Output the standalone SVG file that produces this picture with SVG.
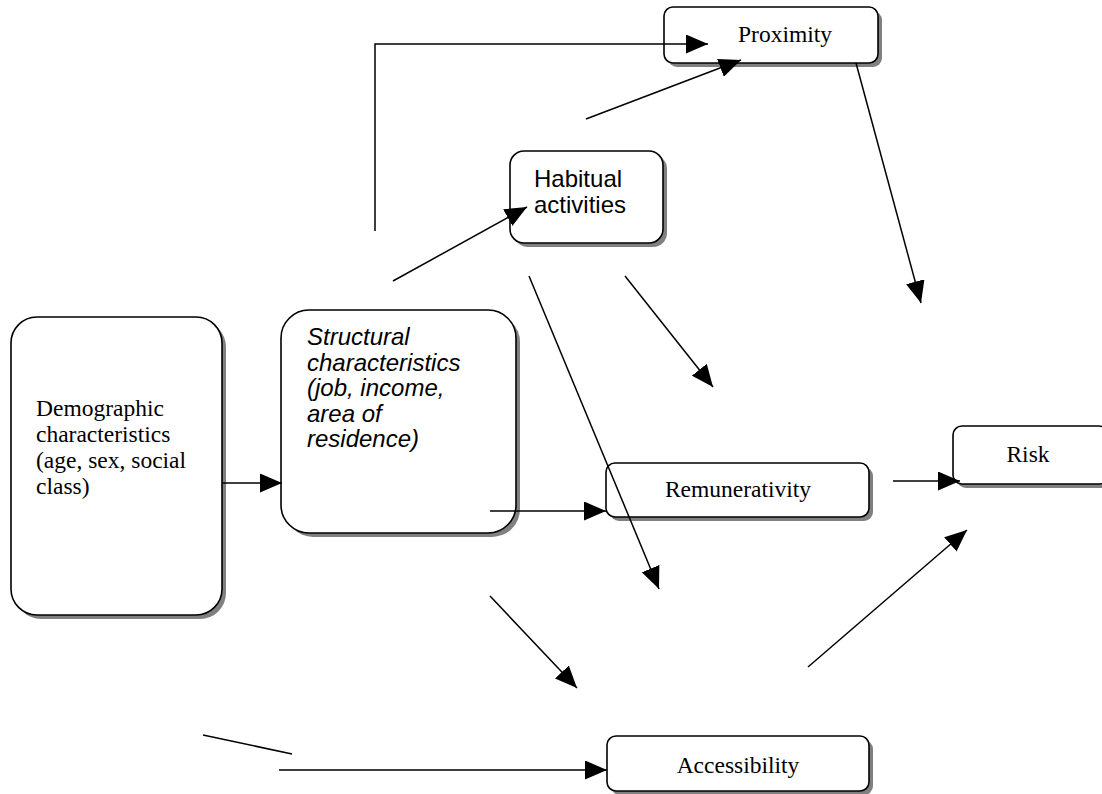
<svg xmlns="http://www.w3.org/2000/svg" width="1102" height="794" viewBox="0 0 1102 794">
  <defs>
    <marker id="arrow" markerUnits="userSpaceOnUse" markerWidth="22" markerHeight="19" refX="22" refY="9.5" orient="auto">
      <path d="M0,0 L22,9.5 L0,19 z" fill="#000"/>
    </marker>
  </defs>
  <style>
    .shadow { fill: #808080; stroke: none; }
    .box { fill: #fff; stroke: #000; stroke-width: 1.6; }
    .serif { font-family: "Liberation Serif", "Times New Roman", serif; font-size: 23.5px; fill: #000; }
    .sans { font-family: "Liberation Sans", Arial, sans-serif; font-size: 24px; fill: #000; }
    .mid { text-anchor: middle; }
    .conn path { fill: none; stroke: #000; stroke-width: 1.5; }
    .conn .arr { marker-end: url(#arrow); }
  </style>
  <rect width="1102" height="794" fill="#fff"/>

  <g id="demographic">
    <rect class="shadow" x="15" y="321" width="211" height="298" rx="26"/>
    <rect class="box" x="11" y="317" width="211" height="298" rx="26"/>
    <text class="serif" x="36" y="416">Demographic</text>
    <text class="serif" x="36" y="442">characteristics</text>
    <text class="serif" x="36" y="468">(age, sex, social</text>
    <text class="serif" x="36" y="494">class)</text>
  </g>

  <g id="structural">
    <rect class="shadow" x="285" y="314" width="235" height="223" rx="28"/>
    <rect class="box" x="281" y="310" width="235" height="223" rx="28"/>
    <g class="sans" font-style="italic">
      <text x="307" y="345">Structural</text>
      <text x="307" y="370.5">characteristics</text>
      <text x="307" y="396">(job, income,</text>
      <text x="307" y="421.5">area of</text>
      <text x="307" y="447">residence)</text>
    </g>
  </g>

  <g id="habitual">
    <rect class="shadow" x="514" y="155" width="153" height="92" rx="14"/>
    <rect class="box" x="510" y="151" width="153" height="92" rx="14"/>
    <text class="sans" x="534" y="187">Habitual</text>
    <text class="sans" x="534" y="213">activities</text>
  </g>

  <g id="proximity">
    <rect class="shadow" x="668" y="11" width="214" height="56" rx="9"/>
    <rect class="box" x="664" y="7" width="214" height="56" rx="9"/>
    <text class="serif mid" x="785" y="42">Proximity</text>
  </g>

  <g id="remunerativity">
    <rect class="shadow" x="610" y="467" width="263" height="54" rx="9"/>
    <rect class="box" x="606" y="463" width="263" height="54" rx="9"/>
    <text class="serif mid" x="738" y="497">Remunerativity</text>
  </g>

  <g id="risk">
    <rect class="shadow" x="957" y="430" width="155" height="58" rx="9"/>
    <rect class="box" x="953" y="426" width="155" height="58" rx="9"/>
    <text class="serif mid" x="1028" y="462">Risk</text>
  </g>

  <g id="accessibility">
    <rect class="shadow" x="611" y="740" width="262" height="55" rx="9"/>
    <rect class="box" x="607" y="736" width="262" height="55" rx="9"/>
    <text class="serif mid" x="738" y="773">Accessibility</text>
  </g>

  <g id="connectors" class="conn">
    <path class="arr" d="M222,483 H282"/>
    <path class="arr" d="M490,511 H606"/>
    <path class="arr" d="M529,276 L659,589"/>
    <path class="arr" d="M625,276 L713,387"/>
    <path class="arr" d="M393,281 L527,207"/>
    <path class="arr" d="M375,231 V44 H708"/>
    <path class="arr" d="M586,119 L741,60"/>
    <path class="arr" d="M856,63 L921,303"/>
    <path class="arr" d="M893,481 H960"/>
    <path class="arr" d="M808,667 L967,530"/>
    <path class="arr" d="M490,596 L577,688"/>
    <path d="M203,735 L292,754"/>
    <path class="arr" d="M279,770 H607"/>
  </g>
</svg>
